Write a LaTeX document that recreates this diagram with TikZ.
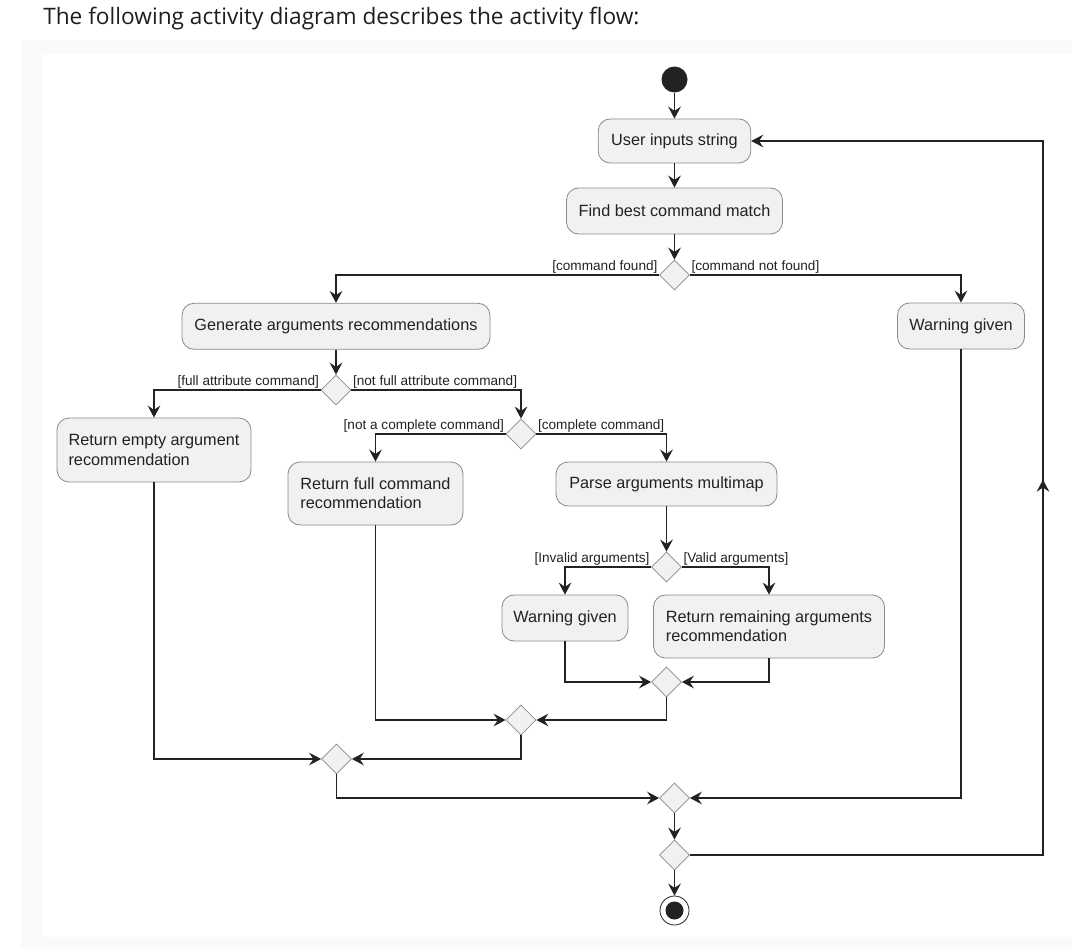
\documentclass[tikz,border=0pt]{standalone}
\usepackage{fontspec}
\setmainfont{Liberation Sans}
\newfontfamily\titlefont{Open Sans}
\usetikzlibrary{shapes.geometric,arrows.meta,decorations.markings}
\definecolor{actfill}{HTML}{F1F1F1}
\definecolor{actdraw}{HTML}{8A8A8A}
\definecolor{linec}{HTML}{222222}
\definecolor{pagebg}{HTML}{FAFAFA}
\definecolor{titlec}{HTML}{1E1E1E}
\tikzset{umltip/.tip={Stealth[length=9pt,width=9.5pt,inset=3.2pt]}}
\begin{document}
\begin{tikzpicture}[x=0.75pt,y=-0.75pt,
 act/.style={draw=actdraw, fill=actfill, line width=0.6pt, rounded corners=9pt,
   font=\fontsize{12.2}{14.5}\selectfont, align=left, inner sep=0pt, text=linec},
 dec/.style={diamond, draw=actdraw, fill=actfill, line width=0.6pt,
   minimum width=22.5pt, minimum height=22.5pt, inner sep=0pt, aspect=1},
 arr/.style={draw=linec, line width=0.9pt, -umltip},
 guard/.style={font=\fontsize{10.2}{12}\selectfont, inner sep=0.8pt, text=linec}
]
\useasboundingbox (0,0) rectangle (1072,949);
\fill[pagebg] (21,40) rectangle (1072,949);
\fill[white] (43,54) rectangle (1072,937);

\node[anchor=base west, inner sep=0pt, text=titlec, font=\titlefont\fontsize{17}{20}\selectfont] (title) at (43,25) {The following activity diagram describes the activity flow:};

% nodes
\node[circle, fill=linec, minimum size=19.5pt, inner sep=0pt] (start) at (674.5,79.5) {};
\node[act, minimum width=114.5pt, minimum height=33pt] (uis) at (674.5,141) {User inputs string};
\node[act, minimum width=162pt, minimum height=34.5pt] (fbc) at (674.5,211) {Find best command match};
\node[dec] (d1) at (674.5,275) {};
\node[act, minimum width=231pt, minimum height=34.5pt] (gar) at (336,326.3) {Generate arguments recommendations};
\node[act, minimum width=95.25pt, minimum height=34.5pt] (wg1) at (961,326) {Warning given};
\node[dec] (d2) at (336,390) {};
\node[act, minimum width=145.5pt, minimum height=48pt] (rea) at (154,450) {Return empty argument\\recommendation};
\node[dec] (d3) at (521,434) {};
\node[act, minimum width=131.25pt, minimum height=47.25pt] (rfc) at (375.5,493.5) {Return full command\\recommendation};
\node[act, minimum width=165.75pt, minimum height=33pt] (pam) at (666.5,484) {Parse arguments multimap};
\node[dec] (d4) at (666.5,567) {};
\node[act, minimum width=94.5pt, minimum height=34.5pt] (wg2) at (565,618) {Warning given};
\node[act, minimum width=173.25pt, minimum height=47.25pt] (rra) at (769,626.5) {Return remaining arguments\\recommendation};
\node[dec] (d5) at (666.5,682) {};
\node[dec] (d6) at (521,720) {};
\node[dec] (d7) at (336.5,759) {};
\node[dec] (d8) at (674.5,798) {};
\node[dec] (d9) at (674.5,855) {};
\node[circle, draw=linec, fill=white, line width=0.6pt, minimum size=21.75pt, inner sep=0pt] (end) at (674.5,910.5) {};
\node[circle, fill=linec, minimum size=13.5pt, inner sep=0pt] (endin) at (end.center) {};
\coordinate (loopx) at (1043,855);

% connectors
\draw[arr] (start) -- (uis);
\draw[arr] (uis) -- (fbc);
\draw[arr] (fbc) -- (d1);
\draw[arr] (d1.west) -| (gar.north) node[pos=0, guard, anchor=south east] {[command found]};
\draw[arr] (d1.east) -| (wg1.north) node[pos=0, guard, anchor=south west] {[command not found]};
\draw[arr] (gar) -- (d2);
\draw[arr] (d2.west) -| (rea.north) node[pos=0, guard, anchor=south east] {[full attribute command]};
\draw[arr] (d2.east) -| (d3.north) node[pos=0, guard, anchor=south west] {[not full attribute command]};
\draw[arr] (d3.west) -| (rfc.north) node[pos=0, guard, anchor=south east] {[not a complete command]};
\draw[arr] (d3.east) -| (pam.north) node[pos=0, guard, anchor=south west] {[complete command]};
\draw[arr] (pam) -- (d4);
\draw[arr] (d4.west) -| (wg2.north) node[pos=0, guard, anchor=south east] {[Invalid arguments]};
\draw[arr] (d4.east) -| (rra.north) node[pos=0, guard, anchor=south west] {[Valid arguments]};
\draw[arr] (wg2.south) |- (d5.west);
\draw[arr] (rra.south) |- (d5.east);
\draw[arr] (rfc.south) |- (d6.west);
\draw[arr] (d5.south) |- (d6.east);
\draw[arr] (rea.south) |- (d7.west);
\draw[arr] (d6.south) |- (d7.east);
\draw[arr] (d7.south) |- (d8.west);
\draw[arr] (wg1.south) |- (d8.east);
\draw[arr] (d8) -- (d9);
\draw[arr] (d9) -- (end);
\draw[arr, postaction={decorate}, decoration={markings, mark=at position 0.536 with {\arrow{umltip}}}]
  (d9.east) -| (loopx |- uis.east) -- (uis.east);
\end{tikzpicture}
\end{document}
